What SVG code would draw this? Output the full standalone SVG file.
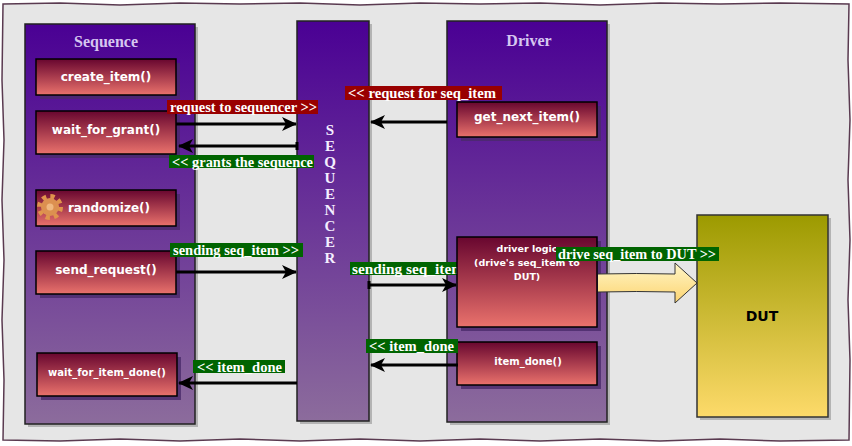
<svg xmlns="http://www.w3.org/2000/svg" width="852" height="446" viewBox="0 0 852 446">
<defs>
<linearGradient id="panelGrad" x1="0" y1="0" x2="0" y2="1">
<stop offset="0" stop-color="#4a0094"/>
<stop offset="1" stop-color="#8c6c9c"/>
</linearGradient>
<linearGradient id="boxGrad" x1="0" y1="0" x2="0" y2="1">
<stop offset="0" stop-color="#68062f"/>
<stop offset="1" stop-color="#ea726c"/>
</linearGradient>
<linearGradient id="dutGrad" x1="0" y1="0" x2="0" y2="1">
<stop offset="0" stop-color="#9c9a00"/>
<stop offset="1" stop-color="#fdda6a"/>
</linearGradient>
<linearGradient id="yArrow" x1="0" y1="0" x2="0" y2="1">
<stop offset="0" stop-color="#fff6c8"/>
<stop offset="1" stop-color="#fcd470"/>
</linearGradient>
<marker id="ah" markerUnits="userSpaceOnUse" markerWidth="16" markerHeight="15" refX="14" refY="7" orient="auto">
<path d="M0,0 L15,7 L0,14 L4,7 Z" fill="#000"/>
</marker>
<style>
.panel{fill:url(#panelGrad);stroke:#222;stroke-width:1.5}
.pshadow{fill:#b4b4b4}
.box{fill:url(#boxGrad);stroke:#000;stroke-width:1.5}
.bshadow{fill:#4a2a6a;opacity:0.8}
.btxt{font-family:"DejaVu Sans",Verdana,sans-serif;font-weight:bold;fill:#fff;text-anchor:middle}
.title{font-family:"Liberation Serif","DejaVu Serif",serif;font-weight:bold;font-size:16px;fill:#d6c6f0;text-anchor:middle}
.lbl{font-family:"Liberation Serif","DejaVu Serif",serif;font-weight:bold;font-size:15px;fill:#fff}
.red{fill:#990000}
.grn{fill:#006400}
.conn{stroke:#000;stroke-width:3;fill:none}
</style>
</defs>
<rect x="0" y="0" width="852" height="446" fill="#ffffff"/>
<path id="frame" d="M3,4 L60,3 L120,5 L180,3 L240,4 L300,3 L360,5 L420,3 L480,4 L540,3 L600,5 L660,3 L720,4 L780,3 L849,4 L848,60 L850,120 L848,180 L850,240 L848,300 L850,360 L849,440 L780,441 L720,439 L660,441 L600,439 L540,441 L480,439 L420,441 L360,439 L300,441 L240,439 L180,441 L120,439 L60,441 L3,440 L4,380 L2,320 L4,260 L2,200 L4,140 L2,80 Z" fill="#e6e6e6" stroke="#5a3a50" stroke-width="1.5"/>

<g id="sequence">
<rect class="pshadow" x="28" y="27" width="170" height="400"/>
<rect class="panel" x="25" y="24" width="170" height="400"/>
<text class="title" x="106" y="47">Sequence</text>
</g>
<g id="sequencer">
<rect class="pshadow" x="300" y="24" width="72" height="400"/>
<rect class="panel" x="297" y="21" width="72" height="400"/>
<g font-family="Liberation Serif,DejaVu Serif,serif" font-weight="bold" font-size="15" fill="#f4eeff" text-anchor="middle">
<text x="330" y="135">S</text>
<text x="330" y="151">E</text>
<text x="330" y="167">Q</text>
<text x="330" y="183">U</text>
<text x="330" y="199">E</text>
<text x="330" y="215">N</text>
<text x="330" y="231">C</text>
<text x="330" y="247">E</text>
<text x="330" y="263">R</text>
</g>
</g>
<g id="driver">
<rect class="pshadow" x="450" y="24" width="160" height="401"/>
<rect class="panel" x="447" y="21" width="160" height="401"/>
<text class="title" x="529" y="46">Driver</text>
</g>
<g id="dut">
<rect class="pshadow" x="700" y="218" width="131" height="202"/>
<rect x="697" y="215" width="131" height="202" fill="url(#dutGrad)" stroke="#333" stroke-width="1.5"/>
<text x="762" y="321" font-family="DejaVu Sans,Verdana,sans-serif" font-weight="bold" font-size="14" fill="#000" text-anchor="middle">DUT</text>
</g>

<g id="labels-under">
<rect class="grn" x="350" y="262" width="110" height="13"/>
<text class="lbl" x="352" y="273.5" textLength="112" lengthAdjust="spacingAndGlyphs">sending seq_item</text>
</g>

<g id="create_item">
<rect class="bshadow" x="40" y="63" width="140" height="36"/>
<rect class="box" x="36" y="59" width="140" height="36"/>
<text class="btxt" x="106" y="81" font-size="12">create_item()</text>
</g>
<g id="wait_for_grant">
<rect class="bshadow" x="40" y="115" width="140" height="43"/>
<rect class="box" x="36" y="111" width="140" height="43"/>
<text class="btxt" x="106" y="134" font-size="12">wait_for_grant()</text>
</g>
<g id="randomize">
<rect class="bshadow" x="40" y="194" width="140" height="36"/>
<rect class="box" x="36" y="190" width="140" height="36"/>
<circle cx="50" cy="207" r="10.5" fill="none" stroke="#e0944c" stroke-width="5" stroke-dasharray="4.2 4.05"/>
<circle cx="50" cy="207" r="9" fill="#dc9050"/>
<circle cx="50" cy="207" r="3.5" fill="#f0b880"/>
<text class="btxt" x="109" y="212" font-size="12">randomize()</text>
</g>
<g id="send_request">
<rect class="bshadow" x="40" y="255" width="140" height="43"/>
<rect class="box" x="36" y="251" width="140" height="43"/>
<text class="btxt" x="106" y="274" font-size="12">send_request()</text>
</g>
<g id="wait_for_item_done">
<rect class="bshadow" x="41" y="357" width="140" height="43"/>
<rect class="box" x="37" y="353" width="140" height="43"/>
<text class="btxt" x="107" y="376" font-size="10">wait_for_item_done()</text>
</g>
<g id="get_next_item">
<rect class="bshadow" x="461" y="106" width="140" height="35"/>
<rect class="box" x="457" y="102" width="140" height="35"/>
<text class="btxt" x="527" y="121" font-size="12">get_next_item()</text>
</g>
<g id="driver_logic">
<rect class="bshadow" x="461" y="241" width="140" height="90"/>
<rect class="box" x="457" y="237" width="140" height="90"/>
<text class="btxt" x="527" y="252" font-size="9.5">driver logic</text>
<text class="btxt" x="527" y="266" font-size="9.5">(drive's seq_item to</text>
<text class="btxt" x="527" y="280" font-size="9.5">DUT)</text>
</g>
<g id="item_done">
<rect class="bshadow" x="461" y="346" width="140" height="43"/>
<rect class="box" x="457" y="342" width="140" height="43"/>
<text class="btxt" x="528" y="365" font-size="10">item_done()</text>
</g>

<g id="connectors">
<line class="conn" x1="176" y1="124" x2="296" y2="124" marker-end="url(#ah)"/>
<line class="conn" x1="297" y1="146" x2="179" y2="146" marker-end="url(#ah)"/>
<line x1="297" y1="142" x2="297" y2="150" stroke="#000" stroke-width="3"/>
<line class="conn" x1="447" y1="122" x2="371" y2="122" marker-end="url(#ah)"/>
<line class="conn" x1="176" y1="272" x2="296" y2="272" marker-end="url(#ah)"/>
<line class="conn" x1="369" y1="285" x2="456" y2="285" marker-end="url(#ah)"/>
<line x1="369" y1="281" x2="369" y2="289" stroke="#000" stroke-width="3"/>
<line class="conn" x1="458" y1="365" x2="371" y2="365" marker-end="url(#ah)"/>
<line class="conn" x1="297" y1="383" x2="179" y2="383" marker-end="url(#ah)"/>
<path id="to-dut" d="M598,274 Q636,273 675,274 L675,263 L697,283 L675,303 L675,292 Q636,291 598,292" fill="url(#yArrow)" stroke="#333" stroke-width="1"/>
</g>

<g id="labels">
<rect class="red" x="167" y="100" width="151" height="14"/>
<text class="lbl" x="170" y="112" textLength="147" lengthAdjust="spacingAndGlyphs">request to sequencer &gt;&gt;</text>
<rect class="grn" x="169" y="155" width="145" height="13"/>
<text class="lbl" x="172" y="166.5" textLength="141" lengthAdjust="spacingAndGlyphs">&lt;&lt; grants the sequence</text>
<rect class="red" x="345" y="86" width="157" height="14"/>
<text class="lbl" x="348" y="98" textLength="148" lengthAdjust="spacingAndGlyphs">&lt;&lt; request for seq_item</text>
<rect class="grn" x="170" y="243" width="133" height="14"/>
<text class="lbl" x="173" y="255" textLength="126" lengthAdjust="spacingAndGlyphs">sending seq_item &gt;&gt;</text>
<rect class="grn" x="366" y="339" width="92" height="14"/>
<text class="lbl" x="369" y="351" textLength="85" lengthAdjust="spacingAndGlyphs">&lt;&lt; item_done</text>
<rect class="grn" x="193" y="360" width="92" height="13"/>
<text class="lbl" x="197" y="371.5" textLength="85" lengthAdjust="spacingAndGlyphs">&lt;&lt; item_done</text>
<rect class="grn" x="556" y="247" width="163" height="14"/>
<text class="lbl" x="558" y="259" textLength="158" lengthAdjust="spacingAndGlyphs">drive seq_item to DUT &gt;&gt;</text>
</g>
</svg>
